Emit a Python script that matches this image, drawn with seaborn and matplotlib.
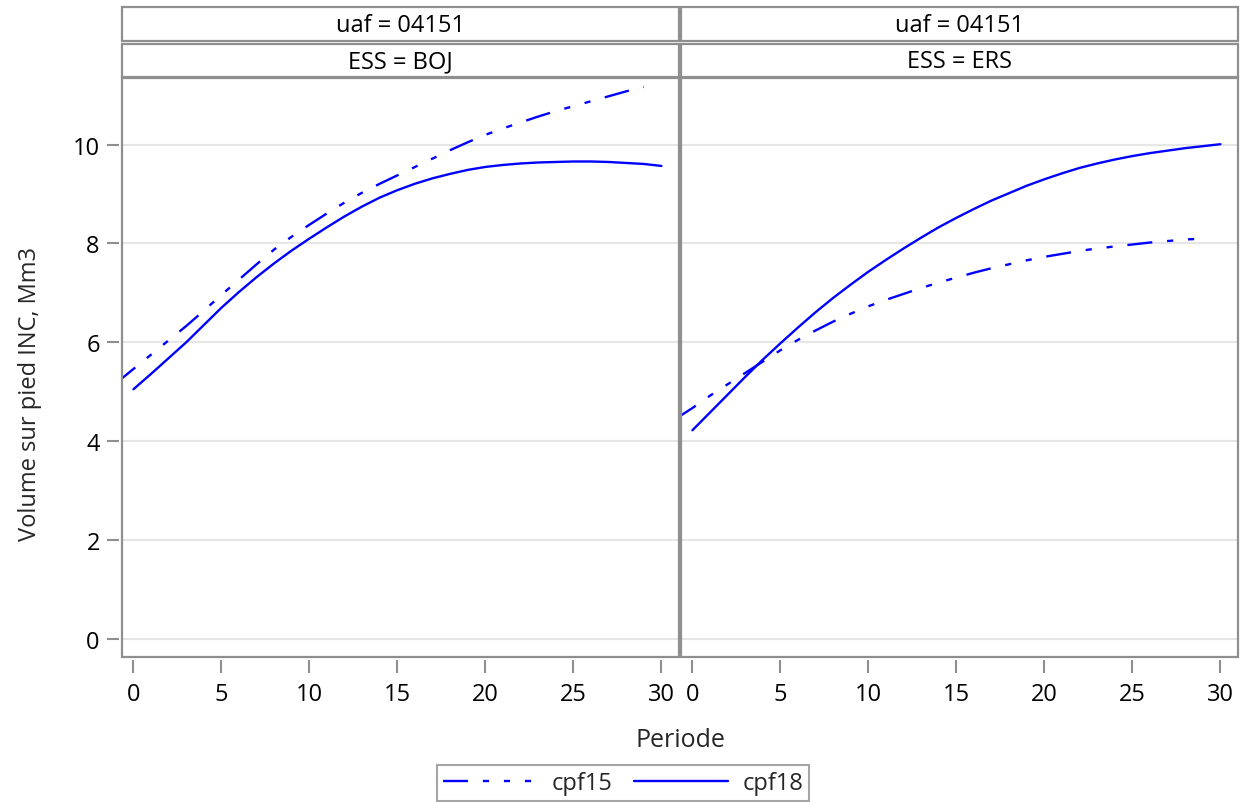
import pandas as pd
import matplotlib.pyplot as plt
import seaborn as sns
from matplotlib.lines import Line2D
from matplotlib.patches import Rectangle

# data (Volume sur pied INC, Mm3)
periode_cpf15 = list(range(-1, 30))
periode_cpf18 = list(range(0, 31))

boj_cpf15 = [5.17, 5.46, 5.75, 6.04, 6.33, 6.64, 6.96, 7.27, 7.58, 7.88, 8.14,
             8.38, 8.61, 8.83, 9.03, 9.21, 9.38, 9.55, 9.72, 9.89, 10.05,
             10.20, 10.33, 10.45, 10.57, 10.68, 10.78, 10.88, 10.98, 11.08, 11.17]
boj_cpf18 = [5.05, 5.36, 5.68, 6.00, 6.35, 6.70, 7.02, 7.32, 7.60, 7.86, 8.10,
             8.33, 8.55, 8.75, 8.93, 9.08, 9.21, 9.32, 9.41, 9.49, 9.55,
             9.59, 9.62, 9.64, 9.65, 9.66, 9.66, 9.65, 9.63, 9.61, 9.57]
ers_cpf15 = [4.44, 4.67, 4.92, 5.15, 5.38, 5.61, 5.84, 6.05, 6.24, 6.42, 6.58,
             6.73, 6.86, 6.98, 7.10, 7.21, 7.31, 7.41, 7.50, 7.58, 7.66,
             7.73, 7.79, 7.85, 7.90, 7.94, 7.98, 8.02, 8.05, 8.08, 8.10]
ers_cpf18 = [4.22, 4.58, 4.94, 5.30, 5.65, 5.98, 6.30, 6.61, 6.90, 7.17, 7.43,
             7.67, 7.90, 8.12, 8.33, 8.52, 8.70, 8.87, 9.02, 9.17, 9.30,
             9.42, 9.53, 9.62, 9.70, 9.77, 9.83, 9.88, 9.93, 9.97, 10.01]

especes = ['BOJ', 'ERS']
series = ['cpf15', 'cpf18']
uaf = '04151'

# long format table for seaborn
frames = []
for ess, v15, v18 in [('BOJ', boj_cpf15, boj_cpf18), ('ERS', ers_cpf15, ers_cpf18)]:
    frames.append(pd.DataFrame({'ESS': ess, 'serie': 'cpf15', 'Periode': periode_cpf15, 'Volume': v15}))
    frames.append(pd.DataFrame({'ESS': ess, 'serie': 'cpf18', 'Periode': periode_cpf18, 'Volume': v18}))
df = pd.concat(frames, ignore_index=True)

sns.set_theme(style="white")
plt.rcParams['font.family'] = ['Open Sans', 'DejaVu Sans']

W, H = 1246, 803
GRAY = '#8f8f8f'
BLUE = '#0000ff'
LW = 1.7
FS = 17
# long dash, dot, dot (in linewidth units)
dash15 = (10.6, 6.3, 2.6, 6.3, 2.6, 6.3)

g = sns.relplot(data=df, x='Periode', y='Volume', col='ESS', col_order=especes,
                style='serie', style_order=series,
                dashes={'cpf15': dash15, 'cpf18': ''},
                kind='line', color=BLUE, linewidth=LW, errorbar=None,
                legend=False, height=5, aspect=1)
fig = g.figure
fig.set_size_inches(W / 100, H / 100)
fig.set_dpi(100)

# panel area in pixels
px_left, px_right, px_top, px_bottom = 122, 1238, 79, 658
fig.subplots_adjust(left=px_left / W, right=px_right / W,
                    top=1 - px_top / H, bottom=1 - px_bottom / H,
                    wspace=2 / 557)
g.set_titles("")

for i, ax in enumerate(g.axes.flat):
    ax.set_xlim(-0.65, 31.0)
    ax.set_ylim(-0.37, 11.35)
    ax.set_xticks(range(0, 31, 5))
    ax.set_yticks(range(0, 11, 2))
    ax.set_xlabel('')
    ax.set_ylabel('')
    ax.yaxis.grid(True, color='#e6e6e6', linewidth=1.5, zorder=0)
    ax.set_axisbelow(True)
    for s in ax.spines.values():
        s.set_visible(False)
    ax.spines['left'].set_position(('outward', 2))
    ax.spines['bottom'].set_position(('outward', 2))
    ax.add_patch(Rectangle((0, 0), 1, 1, transform=ax.transAxes, fill=False,
                           edgecolor=GRAY, linewidth=1.6, clip_on=False, zorder=5))
    ax.tick_params(axis='x', which='major', bottom=True, length=9, width=1.5,
                   color=GRAY, labelsize=FS, pad=7, labelcolor='black')
    ax.tick_params(axis='y', which='major', left=(i == 0), length=9, width=1.5,
                   color=GRAY, labelsize=FS, pad=5, labelcolor='black',
                   labelleft=(i == 0))

# header cells: uaf row then ESS row
cells_x = [(122, 679), (681, 1238)]
rows = [(8, 42, 'uaf = ' + uaf), (45, 78, 'ESS = {}')]
for (x0, x1), ess in zip(cells_x, especes):
    for (y0, y1, txt) in rows:
        fig.add_artist(Rectangle((x0 / W, 1 - y1 / H), (x1 - x0) / W, (y1 - y0) / H,
                                 transform=fig.transFigure, facecolor='white',
                                 edgecolor=GRAY, linewidth=1.6))
        fig.text((x0 + x1) / 2 / W, 1 - (y0 + y1 + 1) / 2 / H, txt.format(ess),
                 ha='center', va='center', fontsize=FS, color='black')

fig.text(680 / W, 1 - 741 / H, 'Periode', ha='center', va='center', fontsize=FS + 1)
fig.text(30 / W, 1 - 394 / H, 'Volume sur pied INC, Mm3', rotation=90,
         ha='center', va='center', fontsize=FS)

handles = [Line2D([], [], color=BLUE, linewidth=LW, dashes=dash15 + (2.6, 6.3)),
           Line2D([], [], color=BLUE, linewidth=LW)]
leg = fig.legend(handles, series, loc='center', bbox_to_anchor=(623 / W, 1 - 784 / H),
                 ncol=2, frameon=True, fancybox=False, fontsize=FS,
                 handlelength=4.0, handletextpad=0.6, columnspacing=0.9,
                 borderpad=0.25, borderaxespad=0)
leg.get_frame().set_edgecolor(GRAY)
leg.get_frame().set_linewidth(1.5)

fig.savefig('out.png', dpi=100)
